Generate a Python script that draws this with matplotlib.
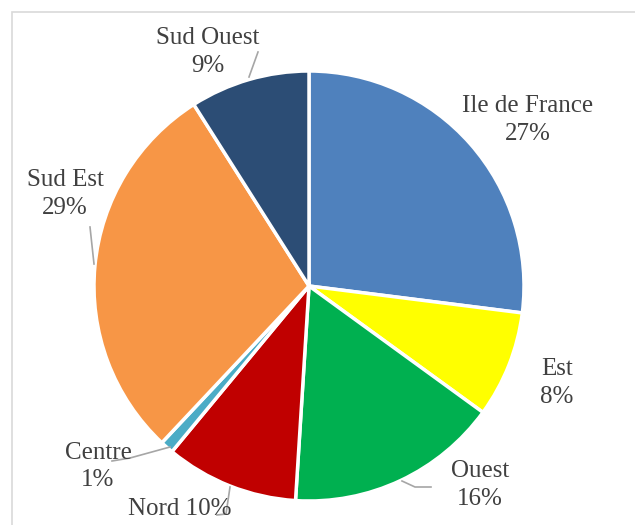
import matplotlib
matplotlib.use("Agg")
import matplotlib.pyplot as plt
from matplotlib.patches import Rectangle

regions = ["Ile de France", "Est", "Ouest", "Nord", "Centre", "Sud Est", "Sud Ouest"]
shares = [27, 8, 16, 10, 1, 29, 9]
colors = ["#4F81BD", "#FFFF00", "#00B050", "#C00000", "#4BACC6", "#F79646", "#2C4D75"]

W, H = 635, 525
fig = plt.figure(figsize=(W / 100, H / 100), dpi=100)
ax = fig.add_axes([0, 0, 1, 1])


def Y(py):
    return H - py


cx, cy, r = 309, Y(286), 215
ax.pie(shares, colors=colors, startangle=90, counterclock=False, center=(cx, cy), radius=r,
       wedgeprops=dict(edgecolor="white", linewidth=2.5), frame=True)
ax.set_xlim(0, W)
ax.set_ylim(0, H)
ax.set_aspect("equal")
ax.axis("off")

# outer frame
ax.add_patch(Rectangle((12, -5), W, Y(12) + 5, fill=False, edgecolor="#D9D9D9", linewidth=1.2))

# label layout (pixel positions of text centres)
label_layout = {
    "Ile de France": [(528, 106), (528, 134)],
    "Est": [(557, 369), (557, 397)],
    "Ouest": [(480, 471), (480, 499)],
    "Nord": [(180, 509)],
    "Centre": [(98, 453), (98, 480)],
    "Sud Est": [(65, 180), (65, 208)],
    "Sud Ouest": [(208, 38), (208, 66)],
}
leaders = {
    "Ouest": [(402, 481), (415, 487), (431, 487)],
    "Nord": [(230, 487), (226, 514), (217, 515)],
    "Centre": [(170, 447), (130, 458), (112, 461)],
    "Sud Est": [(90, 227), (94, 264)],
    "Sud Ouest": [(258, 52), (249, 77)],
}

font = dict(family=["Liberation Serif", "DejaVu Serif"], fontsize=18, color="#404040",
            ha="center", va="center")
for name, val in zip(regions, shares):
    pos = label_layout[name]
    if len(pos) == 1:
        ax.text(pos[0][0], Y(pos[0][1]), f"{name} {val}%", **font)
    else:
        ax.text(pos[0][0], Y(pos[0][1]), name, **font)
        ax.text(pos[1][0], Y(pos[1][1]), f"{val}%", **font)
    if name in leaders:
        pts = leaders[name]
        ax.plot([p[0] for p in pts], [Y(p[1]) for p in pts], color="#A6A6A6", linewidth=1.2, zorder=1)

fig.savefig("out.png", dpi=100, facecolor="white")
